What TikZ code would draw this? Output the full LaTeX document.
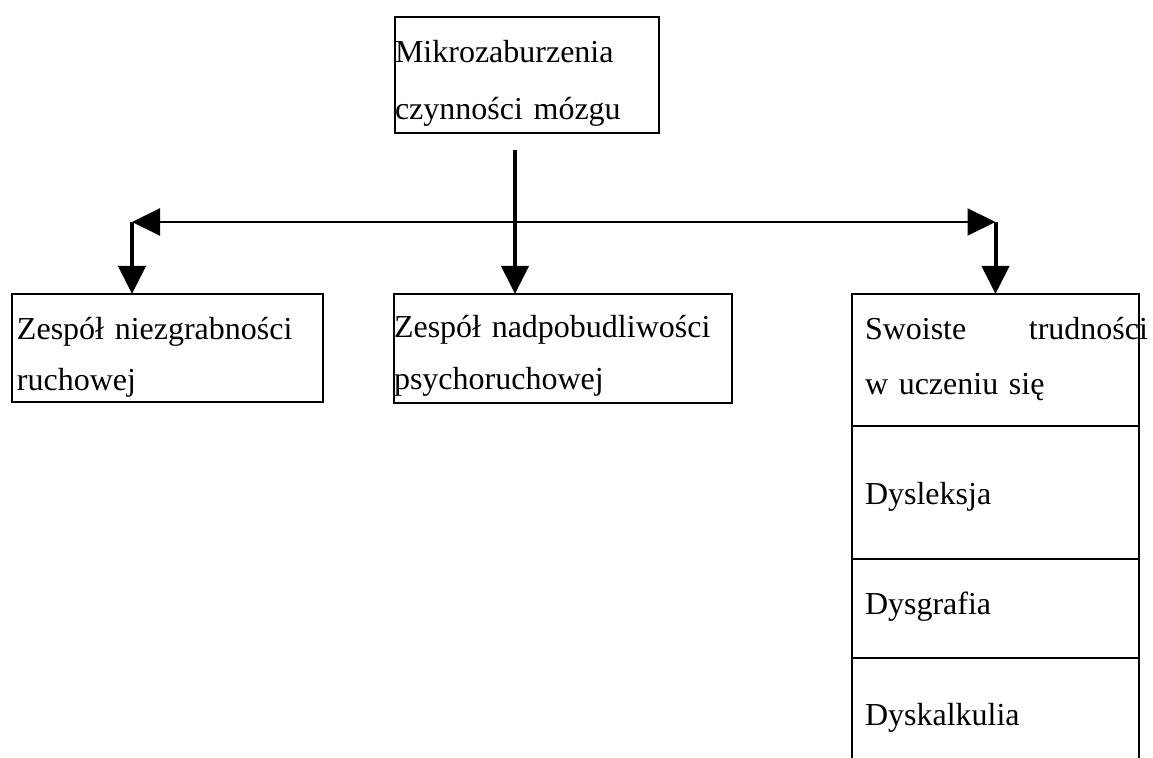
\documentclass[tikz,border=0pt]{standalone}
\usepackage{fontspec}
\setmainfont{Liberation Serif}
\usetikzlibrary{positioning, arrows.meta}

\begin{document}
\begin{tikzpicture}[x=0.5pt, y=-0.5pt,
  box/.style={draw, line width=1pt, outer sep=0pt, anchor=north west, inner ysep=0pt, align=left},
  col/.style={box, inner xsep=6.5pt, text width=130.5pt, font=\fontsize{16}{27.5}\selectfont},
  vline/.style={line width=2pt, -{Triangle[length=14pt,width=13.5pt]}},
  hline/.style={line width=1pt, {Triangle[length=14pt,width=13.5pt]}-{Triangle[length=14pt,width=13.5pt]}}]
\useasboundingbox (0,0) rectangle (1153,758);
\node [box, inner xsep=0pt, text width=132pt, text height=23pt, text depth=35pt, font=\fontsize{16}{28.5}\selectfont] (mikro) at (395,17) {Mikrozaburzenia\\czynności mózgu};
\node [box, inner xsep=2.5pt, text width=150.5pt, text height=23pt, text depth=31pt, font=\fontsize{16}{25.5}\selectfont] (niezgrab) at (12,294) {Zespół niezgrabności\\ruchowej};
\node [box, inner xsep=0pt, text width=169pt, text height=22pt, text depth=32.5pt, font=\fontsize{16}{26}\selectfont] (nadpob) at (394,294) {Zespół nadpobudliwości\\psychoruchowej};
\node [col, text height=23pt, text depth=43pt] (swoiste) at (852,294) {\makebox[141.5pt][l]{Swoiste\hfill trudności}\\w uczeniu się};
\node [col, text height=39.25pt, text depth=27.25pt, below=0pt of swoiste] (dysleksja) {Dysleksja};
\node [col, text height=27.75pt, text depth=21.75pt, below=0pt of dysleksja] (dysgrafia) {Dysgrafia};
\node [col, draw=none, text height=34pt, text depth=16pt, below=0pt of dysgrafia] (dyskalkulia) {Dyskalkulia};
\draw [line width=1pt] (dyskalkulia.north west) -- (dyskalkulia.south west)
  (dyskalkulia.north east) -- (dyskalkulia.south east);
\coordinate (top) at (515,150);
\coordinate (hl) at (132,222);
\coordinate (hr) at (swoiste.north |- hl);
\draw [vline] (top) -- (top |- nadpob.north);
\draw [hline] (hl) -- (hr);
\draw [vline] (hl) -- (hl |- niezgrab.north);
\draw [vline] (hr) -- (swoiste.north);
\end{tikzpicture}
\end{document}
